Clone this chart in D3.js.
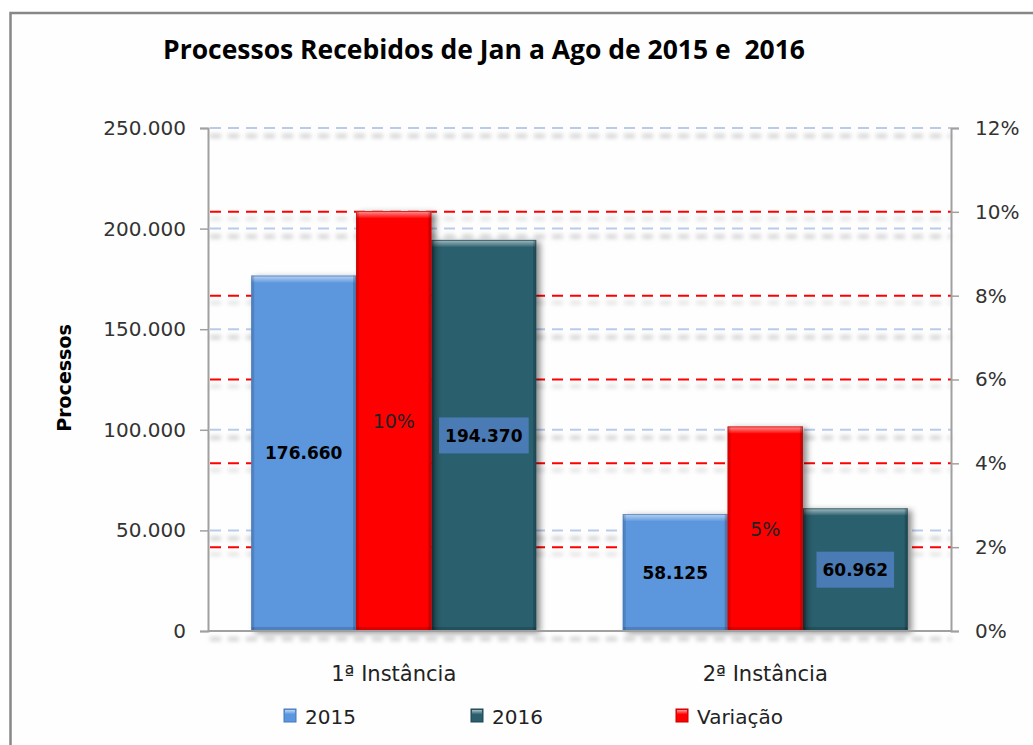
<!DOCTYPE html>
<html>
<head>
<meta charset="utf-8">
<script src="https://cdn.jsdelivr.net/npm/d3@7/dist/d3.min.js"></script>
<style>
  html, body { margin: 0; padding: 0; background: #ffffff; }
  svg { display: block; }
</style>
</head>
<body>
<script>
// ---- Data ----
const categories = ["1ª Instância", "2ª Instância"];
const series2015 = [176660, 58125];
const series2016 = [194370, 60962];
const variacao = [0.1002, 0.0488];
const leftTicks = [0, 50000, 100000, 150000, 200000, 250000];
const rightTicks = [0, 0.02, 0.04, 0.06, 0.08, 0.10, 0.12];
const seriesNames = ["2015", "2016", "Variação"];
const titleText = "Processos Recebidos de Jan a Ago de 2015 e  2016";
const yTitle = "Processos";

// ---- Setup ----
const W = 1033, H = 745;
const svg = d3.select("body").append("svg").attr("width", W).attr("height", H);
const defs = svg.append("defs");

const colors = { "2015": "#5b97de", "2016": "#2b5f6d", "Variação": "#ff0000" };
const edge = { "2015": "#4777b8", "2016": "#1d4653", "Variação": "#c40000" };

const ptLocale = d3.formatLocale({ decimal: ",", thousands: ".", grouping: [3], currency: ["", ""] });
const fmtN = ptLocale.format(",d");
const fmtP = d3.format(".0%");

// filters
const sh = defs.append("filter").attr("id", "barShadow").attr("x", "-20%").attr("y", "-10%").attr("width", "150%").attr("height", "130%");
sh.append("feDropShadow").attr("dx", 4).attr("dy", 2).attr("stdDeviation", 3).attr("flood-color", "#000").attr("flood-opacity", 0.45);
const blur = defs.append("filter").attr("id", "lineBlur").attr("filterUnits", "userSpaceOnUse")
  .attr("x", 0).attr("y", 0).attr("width", W).attr("height", H);
blur.append("feGaussianBlur").attr("stdDeviation", 2.2);

// top highlight gradient
const hg = defs.append("linearGradient").attr("id", "topHi").attr("x1", 0).attr("y1", 0).attr("x2", 0).attr("y2", 1);
hg.append("stop").attr("offset", "0%").attr("stop-color", "#fff").attr("stop-opacity", 0.6);
hg.append("stop").attr("offset", "100%").attr("stop-color", "#fff").attr("stop-opacity", 0.05);

// ---- Frame ----
svg.append("rect").attr("x", 0).attr("y", 0).attr("width", W).attr("height", H).attr("fill", "#fff");
svg.append("rect").attr("x", 10.5).attr("y", 13).attr("width", 1040).attr("height", 800)
  .attr("fill", "#fefefe").attr("stroke", "#878787").attr("stroke-width", 2.5);

// ---- Scales ----
const plotL = 208, plotR = 951, plotT = 128, plotB = 631;
const y = d3.scaleLinear().domain([0, 250000]).range([plotB, plotT]);
const y2 = d3.scaleLinear().domain([0, 0.12]).range([plotB, plotT]);
const x = d3.scaleBand().domain(categories).range([plotL, plotR]).paddingInner(0.233).paddingOuter(0.1165);
// sub-slots inside each group (fractions of group width)
const slot = { "2015": [0, 0.368], "Variação": [0.368, 0.632], "2016": [0.632, 1] };
const bx = (c, s) => x(c) + slot[s][0] * x.bandwidth();
const bw = (s) => (slot[s][1] - slot[s][0]) * x.bandwidth();

// ---- Gridlines ----
const grid = svg.append("g");
const midRight = rightTicks.filter(d => d > 0 && d < 0.12);
// blurred shadows of gridlines
grid.append("g").attr("filter", "url(#lineBlur)").selectAll("line").data(leftTicks).join("line")
  .attr("x1", plotL + 2).attr("x2", plotR).attr("y1", d => y(d) + 8).attr("y2", d => y(d) + 8)
  .attr("stroke", "#d0d0d0").attr("stroke-width", 4).attr("stroke-dasharray", "11,7");
grid.append("g").attr("filter", "url(#lineBlur)").selectAll("line").data(midRight).join("line")
  .attr("x1", plotL + 2).attr("x2", plotR).attr("y1", d => y2(d) + 7).attr("y2", d => y2(d) + 7)
  .attr("stroke", "#dcdcdc").attr("stroke-width", 3).attr("stroke-dasharray", "11,7");
grid.selectAll(".gb").data(leftTicks.filter(d => d > 0)).join("line")
  .attr("x1", plotL + 2).attr("x2", plotR).attr("y1", d => y(d)).attr("y2", d => y(d))
  .attr("stroke", "#b9cbeb").attr("stroke-width", 2).attr("stroke-dasharray", "11,7");
grid.selectAll(".gr").data(midRight).join("line")
  .attr("x1", plotL + 2).attr("x2", plotR).attr("y1", d => y2(d)).attr("y2", d => y2(d))
  .attr("stroke", "#ff0000").attr("stroke-width", 2).attr("stroke-dasharray", "11,7");

// ---- Bars ----
function drawBar(g, c, s, val, scale) {
  const x0 = bx(c, s), w = bw(s), y0 = scale(val), h = plotB - y0;
  const bar = g.append("g");
  bar.append("rect").attr("x", x0).attr("y", y0).attr("width", w).attr("height", h)
    .attr("fill", colors[s]).attr("filter", "url(#barShadow)");
  bar.append("rect").attr("x", x0).attr("y", y0).attr("width", w).attr("height", 7).attr("fill", "url(#topHi)");
  bar.append("rect").attr("x", x0).attr("y", y0).attr("width", 3).attr("height", h).attr("fill", "#000").attr("opacity", 0.13);
  bar.append("rect").attr("x", x0 + w - 3).attr("y", y0).attr("width", 3).attr("height", h).attr("fill", "#000").attr("opacity", 0.18);
  bar.append("rect").attr("x", x0).attr("y", plotB - 4).attr("width", w).attr("height", 4).attr("fill", "#000").attr("opacity", 0.15);
  bar.append("rect").attr("x", x0 + 0.5).attr("y", y0 + 0.5).attr("width", w - 1).attr("height", h - 1)
    .attr("fill", "none").attr("stroke", edge[s]).attr("stroke-width", 1).attr("opacity", 0.7);
}
const bars = svg.append("g");
categories.forEach((c, i) => {
  drawBar(bars, c, "2015", series2015[i], y);
  drawBar(bars, c, "2016", series2016[i], y);
  drawBar(bars, c, "Variação", variacao[i], y2);
});

// ---- Axes ----
const axCol = "#a0a0a0";
const axL = svg.append("g").attr("transform", `translate(${plotL},0)`)
  .call(d3.axisLeft(y).tickValues(leftTicks).tickFormat(fmtN).tickSize(8).tickPadding(14));
const axR = svg.append("g").attr("transform", `translate(${plotR},0)`)
  .call(d3.axisRight(y2).tickValues(rightTicks).tickFormat(fmtP).tickSize(8).tickPadding(16));
[axL, axR].forEach(a => {
  a.select(".domain").attr("stroke", axCol).attr("stroke-width", 2);
  a.selectAll(".tick line").attr("stroke", axCol).attr("stroke-width", 1.5);
  a.selectAll(".tick text").attr("font-family", "DejaVu Sans, Verdana, sans-serif").attr("font-size", 20).attr("fill", "#333");
});
svg.append("line").attr("x1", plotL).attr("x2", plotR).attr("y1", plotB).attr("y2", plotB)
  .attr("stroke", axCol).attr("stroke-width", 2);

// category labels
svg.append("g").selectAll("text").data(categories).join("text")
  .attr("x", d => x(d) + x.bandwidth() / 2).attr("y", 681)
  .attr("text-anchor", "middle").attr("font-family", "DejaVu Sans, sans-serif").attr("font-size", 21).attr("fill", "#222")
  .text(d => d);

// ---- Data labels ----
const lab = svg.append("g").attr("font-family", "DejaVu Sans, Verdana, sans-serif");
categories.forEach((c, i) => {
  lab.append("text").attr("x", bx(c, "2015") + bw("2015") / 2).attr("y", (y(series2015[i]) + plotB) / 2)
    .attr("dy", "0.36em").attr("text-anchor", "middle").attr("font-size", 17).attr("font-weight", "bold").attr("fill", "#000")
    .text(fmtN(series2015[i]));
  const cx = bx(c, "2016") + bw("2016") / 2, cy = (y(series2016[i]) + plotB) / 2;
  const t = lab.append("text").attr("x", cx).attr("y", cy)
    .attr("dy", "0.36em").attr("text-anchor", "middle").attr("font-size", 17).attr("font-weight", "bold").attr("fill", "#000")
    .text(fmtN(series2016[i]));
  const bb = t.node().getBBox();
  lab.insert("rect", () => t.node()).attr("x", bb.x - 6).attr("y", cy - 18).attr("width", bb.width + 12).attr("height", 36)
    .attr("fill", "#4a7bb5");
  lab.append("text").attr("x", bx(c, "Variação") + bw("Variação") / 2).attr("y", (y2(variacao[i]) + plotB) / 2)
    .attr("dy", "0.36em").attr("text-anchor", "middle").attr("font-size", 19).attr("fill", "#222")
    .text(fmtP(variacao[i]));
});

// ---- Titles ----
svg.append("text").attr("x", 484).attr("y", 59).attr("text-anchor", "middle")
  .attr("xml:space", "preserve").style("white-space", "pre")
  .attr("font-family", "Liberation Sans Narrow, Open Sans, sans-serif").attr("font-weight", "bold").attr("font-size", 26)
  .attr("fill", "#000").attr("textLength", 642).attr("lengthAdjust", "spacingAndGlyphs")
  .text(titleText);
svg.append("text").attr("transform", "translate(71,378) rotate(-90)").attr("text-anchor", "middle")
  .attr("font-family", "DejaVu Sans, sans-serif").attr("font-weight", "bold").attr("font-size", 19).attr("fill", "#000")
  .text(yTitle);

// ---- Legend ----
const legX = [284, 471, 676];
const leg = svg.append("g");
seriesNames.forEach((s, i) => {
  const g = leg.append("g").attr("transform", `translate(${legX[i]},709)`);
  g.append("rect").attr("width", 12).attr("height", 13).attr("fill", colors[s]).attr("stroke", edge[s]).attr("stroke-width", 1);
  g.append("rect").attr("x", 1).attr("y", 1).attr("width", 10).attr("height", 4).attr("fill", "url(#topHi)");
  g.append("text").attr("x", 21).attr("y", 15).attr("font-family", "DejaVu Sans, sans-serif").attr("font-size", 20).attr("fill", "#222").text(s);
});
</script>
</body>
</html>
